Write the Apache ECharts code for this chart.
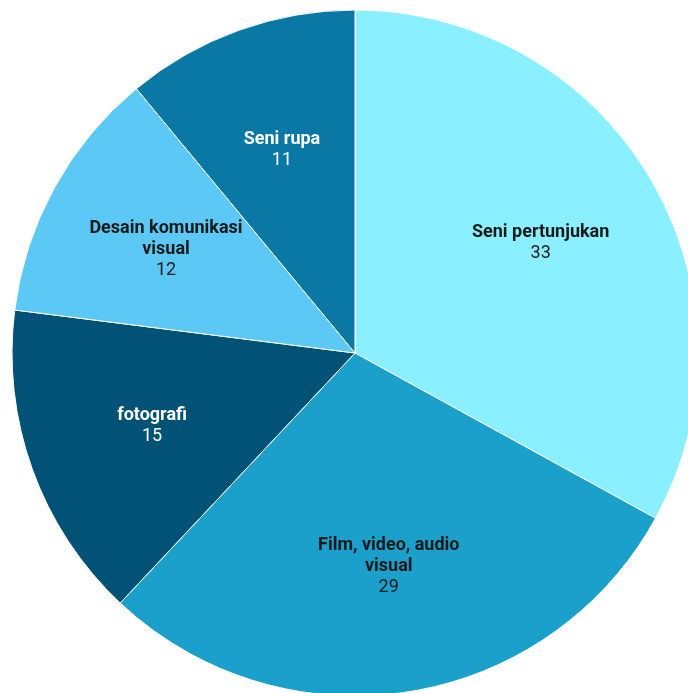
<!DOCTYPE html>
<html>
<head>
<meta charset="utf-8">
<script src="https://cdn.jsdelivr.net/npm/echarts@6/dist/echarts.min.js"></script>
<style>html,body{margin:0;padding:0;background:#fff}#c{width:688px;height:693px}</style>
</head>
<body>
<div id="c"></div>
<script>
const categories = ["Seni pertunjukan", "Film, video, audio visual", "fotografi", "Desain komunikasi visual", "Seni rupa"];
const values = [33, 29, 15, 12, 11];
const colors = ["#8AF0FF", "#1BA0CC", "#025177", "#5BC8F5", "#0A78A5"];
const labelColors = ["#1a1a1a", "#1a1a1a", "#ffffff", "#1a1a1a", "#ffffff"];

const cv = document.createElement('canvas').getContext('2d');
cv.font = 'bold 18px Roboto';
function wrap(text, maxW) {
  const words = text.split(' ');
  const lines = [];
  let cur = '';
  words.forEach(w => {
    const t = cur ? cur + ' ' + w : w;
    if (cur && cv.measureText(t).width > maxW) { lines.push(cur); cur = w; }
    else cur = t;
  });
  if (cur) lines.push(cur);
  return lines;
}

const chart = echarts.init(document.getElementById('c'));
const R = 343;
const LR = 0.62 * 2 * R;
const pieData = categories.map((n, i) => ({ name: n, value: values[i], itemStyle: { color: colors[i] } }));
const labelData = categories.map((n, i) => ({
  name: n, value: values[i],
  label: { color: labelColors[i] }
}));
chart.setOption({
  animation: false,
  series: [
    {
      type: 'pie',
      center: [355, 353],
      radius: [0, R],
      startAngle: 90,
      clockwise: true,
      silent: true,
      data: pieData,
      itemStyle: { borderColor: '#ffffff', borderWidth: 1 },
      label: { show: false },
      labelLine: { show: false }
    },
    {
      type: 'pie',
      center: [355, 353],
      radius: [0, LR],
      startAngle: 90,
      clockwise: true,
      silent: true,
      data: labelData,
      itemStyle: { color: 'rgba(0,0,0,0)', borderWidth: 0 },
      labelLine: { show: false },
      label: {
        show: true,
        position: 'inside',
        fontFamily: 'Roboto',
        fontSize: 18,
        lineHeight: 21,
        align: 'center',
        formatter: p => wrap(p.name, 180).map(l => '{b|' + l + '}').join('\n') + '\n{v|' + p.value + '}',
        rich: {
          b: { fontFamily: 'Roboto', fontWeight: 'bold', fontSize: 18, lineHeight: 21, align: 'center' },
          v: { fontFamily: 'Roboto', fontSize: 18, lineHeight: 21, align: 'center' }
        }
      }
    }
  ]
});
</script>
</body>
</html>
